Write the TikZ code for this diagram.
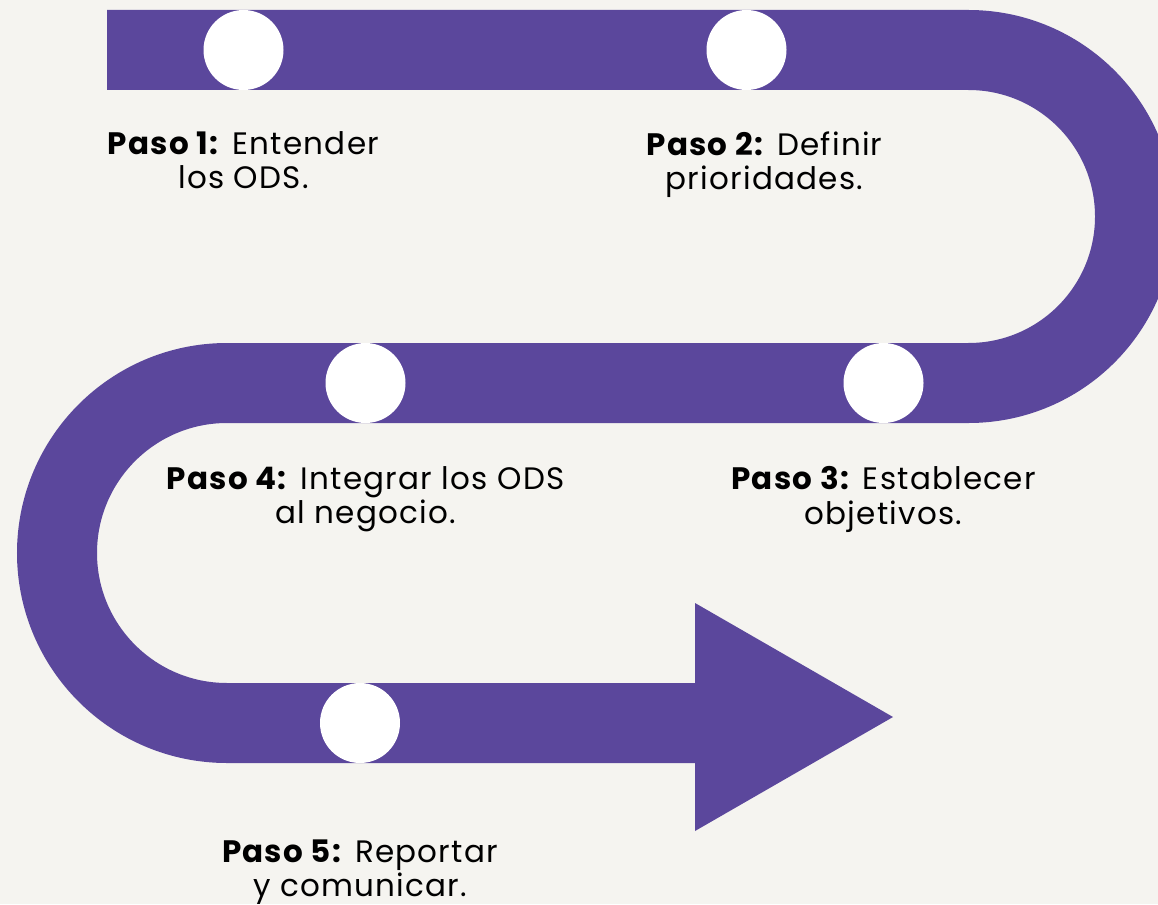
\documentclass[tikz,border=0pt]{standalone}
\usepackage{fontspec}
\setmainfont{Poppins}[LetterSpace=4]
\usetikzlibrary{positioning}
\definecolor{ribbon}{RGB}{91,71,156}
\definecolor{paper}{RGB}{245,244,240}

\begin{document}
\begin{tikzpicture}[x=1pt, y=-1pt,
    dot/.style={circle, fill=white, minimum size=80pt, inner sep=0pt},
    steptext/.style={align=center, font=\fontsize{31}{34.5}\selectfont, inner sep=0pt}]
  \fill[paper] (0,0) rectangle (1158,904);
  \useasboundingbox (0,0) rectangle (1158,904);
  \clip (0,0) rectangle (1158,904);

  % the winding road
  \draw[ribbon, line width=80pt] (107,50) -- (968.5,50)
    arc[start angle=-90, end angle=90, radius=166.5] -- (227,383)
    arc[start angle=270, end angle=90, radius=170] -- (695,723);
  \fill[ribbon] (695,603) -- (893,717) -- (695,831) -- cycle;

  % stops on the road
  \foreach \name/\px/\py in {c1/243.5/50, c2/746.5/50, c3/883.5/383, c4/365.5/383, c5/360/723}
    \node[dot] (\name) at (\px,\py) {};

  % labels
  \node[steptext, below=41pt of c1] (t1) {\textbf{Paso 1:} Entender\\los ODS.};
  \node[steptext, below=41pt of c2, xshift=18pt] (t2) {\textbf{Paso 2:} Definir\\prioridades.};
  \node[steptext, below=43pt of c3] (t3) {\textbf{Paso 3:} Establecer\\objetivos.};
  \node[steptext, below=43pt of c4] (t4) {\textbf{Paso 4:} Integrar los ODS\\al negocio.};
  \node[steptext, below=76pt of c5] (t5) {\textbf{Paso 5:} Reportar\\y comunicar.};
\end{tikzpicture}
\end{document}
